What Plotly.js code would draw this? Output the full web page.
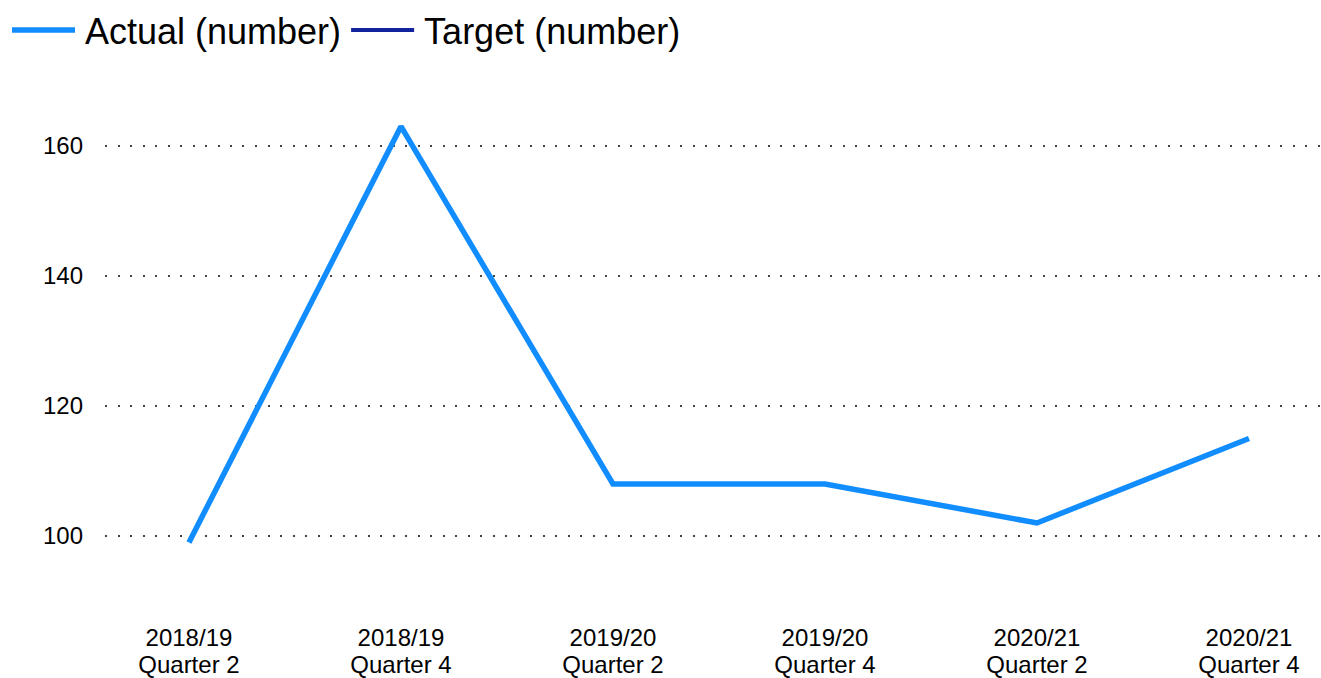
<!DOCTYPE html>
<html>
<head>
<meta charset="utf-8">
<script src="https://cdn.plot.ly/plotly-3.0.1.min.js"></script>
<style>html,body{margin:0;padding:0;background:#fff;}#chart{width:1321px;height:678px;}</style>
</head>
<body>
<div id="chart"></div>
<script>
const years = ["2018/19", "2018/19", "2019/20", "2019/20", "2020/21", "2020/21"];
const quarters = ["Quarter 2", "Quarter 4", "Quarter 2", "Quarter 4", "Quarter 2", "Quarter 4"];
const categories = years.map((y, i) => y + " " + quarters[i]);
const actualValues = [99, 163, 108, 108, 102, 115];
const targetValues = [null, null, null, null, null, null];
const yTickValues = [100, 120, 140, 160];
const xRange = [-0.396, 5.335];
const positions = categories.map((c, i) => i);

const traces = [
  {x: categories, y: actualValues, name: "Actual (number)", type: "scatter", mode: "lines",
   line: {color: "#118DFF", width: 5.5}},
  {x: positions, y: targetValues, xaxis: "x2", name: "Target (number)", type: "scatter", mode: "lines",
   line: {color: "#12239E", width: 4}}
];

const layout = {
  width: 1321, height: 678,
  paper_bgcolor: "#fff", plot_bgcolor: "#fff",
  font: {family: "Liberation Sans, Arial, sans-serif", color: "#000"},
  margin: {l: 105, r: 1, t: 90, b: 78},
  showlegend: true,
  legend: {orientation: "h", xref: "container", yref: "container", x: 0.0053, y: 1, xanchor: "left", yanchor: "top",
           font: {size: 36, color: "#000"}, bgcolor: "rgba(0,0,0,0)", itemwidth: 68},
  xaxis: {type: "category", range: xRange, showgrid: false, zeroline: false, showline: false,
          tickmode: "array", tickvals: categories, ticktext: years,
          ticks: "", tickfont: {size: 24, color: "#000"}, ticklabelstandoff: 21},
  xaxis2: {overlaying: "x", anchor: "y", side: "bottom", type: "linear", range: xRange,
           tickmode: "array", tickvals: positions, ticktext: quarters,
           showgrid: false, zeroline: false, showline: false, ticks: "",
           tickfont: {size: 24, color: "#000"}, ticklabelstandoff: 48},
  yaxis: {range: [90.15, 168.6], tickvals: yTickValues, showgrid: true, gridcolor: "#444", gridwidth: 2,
          griddash: "2px,10.5px", zeroline: false, showline: false, ticks: "",
          tickfont: {size: 24, color: "#000"}, ticklabelstandoff: 21}
};

Plotly.newPlot("chart", traces, layout, {displayModeBar: false, staticPlot: true}).then(function (gd) {
  gd.querySelectorAll(".legend .legendlines path").forEach(function (p) {
    p.setAttribute("d", "M5,0h63");
  });
});
</script>
</body>
</html>
